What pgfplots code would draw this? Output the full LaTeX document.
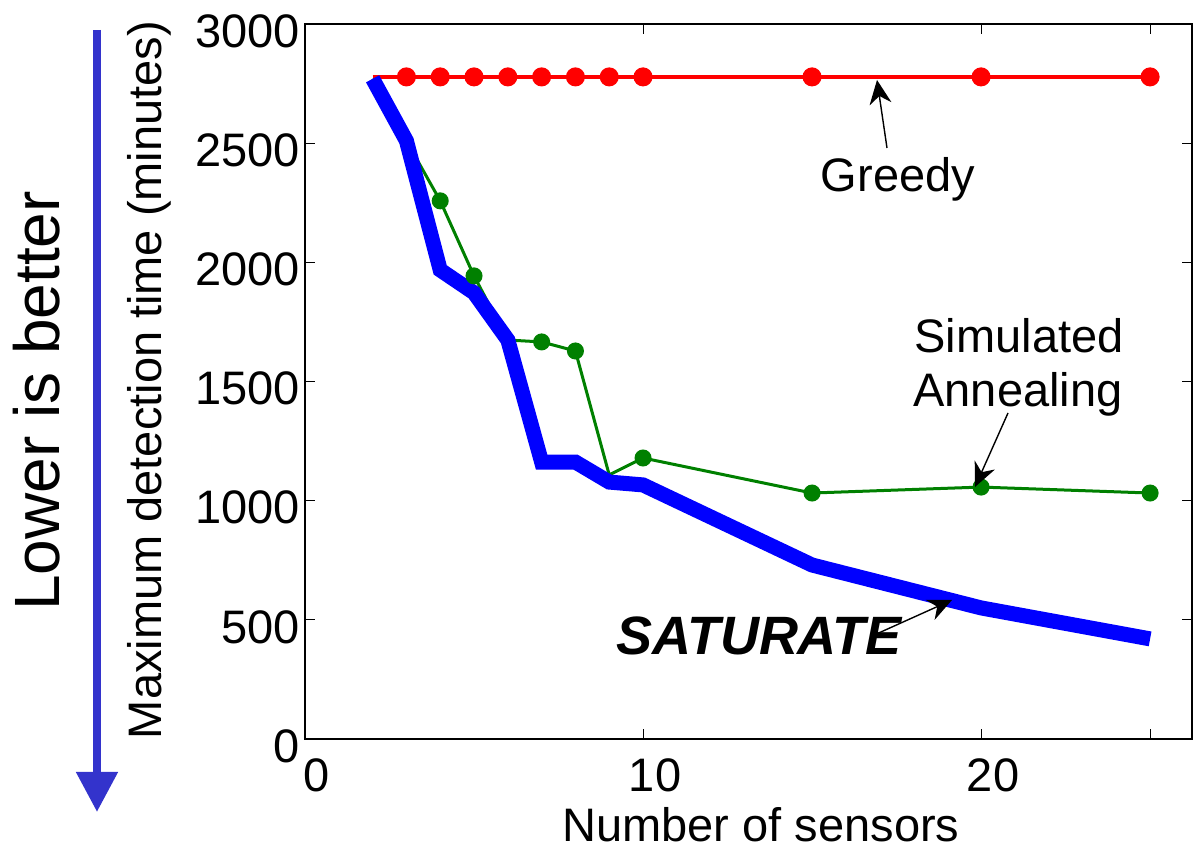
\documentclass[border=0pt]{standalone}
\usepackage{fontspec}
\setmainfont{Liberation Sans}
\usepackage{pgfplots}
\pgfplotsset{compat=1.18}
\usetikzlibrary{arrows.meta}

\definecolor{mgreen}{RGB}{0,128,0}
\definecolor{arrowblue}{RGB}{51,51,204}
\newcommand\bigf{\fontsize{23.5}{28}\selectfont}

\begin{document}
\begin{tikzpicture}
\begin{axis}[
    scale only axis,
    width=443.5pt, height=357.5pt,
    xmin=0, xmax=26.24,
    ymin=0, ymax=3000,
    xtick={0,10,20,25}, xticklabels={0,10,20,{}},
    ytick={0,500,...,3000},
    tick align=inside, tick pos=both,
    major tick length=5pt,
    axis line style={line width=0.7pt},
    every tick/.style={black, line width=0.5pt},
    ticklabel style={font=\bigf},
    /pgf/number format/assume math mode=true,
    /pgf/number format/1000 sep={},
    scaled ticks=false,
    xticklabel style={inner sep=0pt, anchor=north, xshift=6pt, yshift=-9.5pt},
    yticklabel style={inner sep=0pt, anchor=east, xshift=-2.5pt, yshift=-3.5pt},
    clip=false,
]
% greedy (marker at x=2 sits under the thick line)
\addplot[red, line width=2pt, mark=*, mark size=3.75pt,
    mark indices={2,3,4,5,6,7,8,9,10,11,12}] coordinates {
    (2,2778)(3,2778)(4,2778)(5,2778)(6,2778)(7,2778)(8,2778)(9,2778)(10,2778)
    (15,2778)(20,2778)(25,2778)
};
% simulated annealing
\addplot[mgreen, line width=1.5pt, mark=*, mark size=3.5pt,
    mark indices={3,4,6,7,9,10,11,12}] coordinates {
    (2,2770)(3,2510)(4,2258)(5,1943)(6,1674)(7,1666)(8,1628)(9,1108)(10,1179)
    (15,1032)(20,1057)(25,1032)
};
% saturate
\addplot[blue, line width=7.5pt, mark=none] coordinates {
    (2,2770)(3,2510)(4,1968)(5,1872)(6,1674)(7,1162)(8,1162)(9,1078)(10,1066)
    (15,730)(20,550)(25,420)
};
\end{axis}

% annotations
\node[anchor=base, font=\bigf] at (296.5pt,273.5pt) {Greedy};
\draw[line width=0.7pt, -{Stealth[length=12pt, width=11pt]}] (291pt,295.5pt) -- (286pt,329.5pt);

\node[anchor=base, font=\bigf] at (357pt,193pt) {Simulated};
\node[anchor=base, font=\bigf] at (356.5pt,166pt) {Annealing};
\draw[line width=0.7pt, -{Stealth[length=12pt, width=11pt]}] (351.5pt,163pt) -- (335pt,126pt);

\node[anchor=base, font=\fontsize{27}{32}\selectfont\bfseries\itshape] at (227pt,42pt) {SATURATE};
\draw[line width=0.7pt, -{Stealth[length=12pt, width=11pt]}] (283.5pt,51.5pt) -- (323.5pt,69.5pt);

% axis titles
\node[anchor=base, font=\bigf] at (228pt,-51.5pt) {Number of sensors};
\node[anchor=base, rotate=90, font=\bigf] at (-71.5pt,179.5pt) {Maximum detection time (minutes)};

% lower is better
\node[anchor=base, rotate=90, font=\fontsize{32}{38}\selectfont] at (-122.5pt,169pt) {Lower is better};
\draw[arrowblue, line width=4pt, -{Triangle[length=20pt, width=20pt]}] (-104pt,354.5pt) -- (-104pt,-36.5pt);

\pgfresetboundingbox
\useasboundingbox (-152.5pt,-55pt) rectangle (444.5pt,369.5pt);
\end{tikzpicture}
\end{document}
